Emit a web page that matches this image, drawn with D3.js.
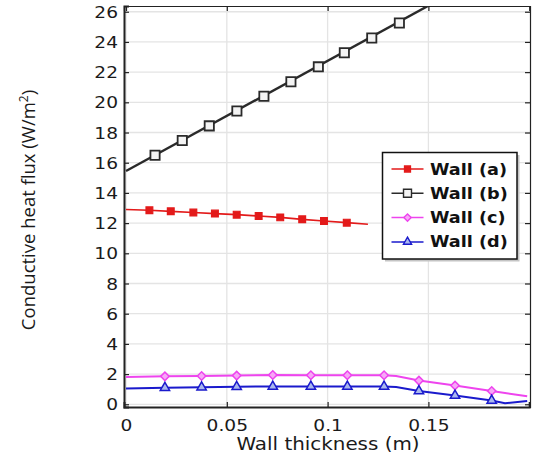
<!DOCTYPE html>
<html><head><meta charset="utf-8">
<script src="https://cdn.jsdelivr.net/npm/d3@7"></script>
<style>body{margin:0;background:#fff;} svg{display:block;}</style>
</head><body>
<svg id="chart" width="537" height="457"></svg>
<script>
// ---- data ----
const xTicks = [0, 0.05, 0.1, 0.15];
const xTickLabels = ["0", "0.05", "0.1", "0.15"];
const yTicks = [0, 2, 4, 6, 8, 10, 12, 14, 16, 18, 20, 22, 24, 26];
const seriesNames = ["Wall (a)", "Wall (b)", "Wall (c)", "Wall (d)"];

// line paths (x in m, y in W/m2)
const wallA_lineX = [0, 0.0116, 0.0222, 0.0334, 0.0441, 0.0549, 0.0658, 0.0765, 0.0874, 0.0982, 0.1095, 0.12];
const wallA_lineY = [12.9, 12.85, 12.78, 12.7, 12.63, 12.56, 12.47, 12.38, 12.25, 12.14, 12.03, 11.92];
const wallA_markX = [0.0116, 0.0222, 0.0334, 0.0441, 0.0549, 0.0658, 0.0765, 0.0874, 0.0982, 0.1095];
const wallA_markY = [12.85, 12.78, 12.7, 12.63, 12.56, 12.47, 12.38, 12.25, 12.14, 12.03];

const wallB_lineX = [0, 0.15];
const wallB_lineY = [15.45, 26.4];
const wallB_markX = [0.0144, 0.0279, 0.0413, 0.055, 0.0684, 0.0818, 0.0954, 0.1083, 0.1219, 0.1356];
const wallB_markY = [16.49, 17.47, 18.44, 19.43, 20.4, 21.36, 22.35, 23.28, 24.26, 25.25];

const wallC_lineX = [0, 0.0193, 0.0375, 0.0549, 0.0728, 0.0917, 0.1098, 0.128, 0.134, 0.1453, 0.1632, 0.1814, 0.199];
const wallC_lineY = [1.81, 1.85, 1.87, 1.9, 1.94, 1.92, 1.92, 1.92, 1.88, 1.57, 1.24, 0.88, 0.53];
const wallC_markX = [0.0193, 0.0375, 0.0549, 0.0728, 0.0917, 0.1098, 0.128, 0.1453, 0.1632, 0.1814];
const wallC_markY = [1.85, 1.87, 1.9, 1.94, 1.92, 1.92, 1.92, 1.57, 1.24, 0.88];

const wallD_lineX = [0, 0.0193, 0.0375, 0.0549, 0.0728, 0.0917, 0.1098, 0.128, 0.134, 0.1453, 0.1632, 0.1814, 0.188, 0.199];
const wallD_lineY = [1.04, 1.1, 1.13, 1.16, 1.18, 1.18, 1.18, 1.18, 1.15, 0.88, 0.58, 0.25, 0.07, 0.22];
const wallD_markX = [0.0193, 0.0375, 0.0549, 0.0728, 0.0917, 0.1098, 0.128, 0.1453, 0.1632, 0.1814];
const wallD_markY = [1.1, 1.13, 1.16, 1.18, 1.18, 1.18, 1.18, 0.88, 0.58, 0.25];

// ---- drawing ----
const svg = d3.select("#chart");
const L = 124, R = 530, T = 6, B = 407;
const x = d3.scaleLinear().domain([-0.001, 0.2]).range([L, 529.2]);
const y = d3.scaleLinear().domain([-0.18, 26.38]).range([B, T]);
const font = "'DejaVu Sans', sans-serif";
const SX = 1.2; // horizontal stretch of the reference text

svg.append("defs").append("clipPath").attr("id", "clip")
  .append("rect").attr("x", L).attr("y", T).attr("width", R - L).attr("height", B - T);

// grid
const grid = svg.append("g");
grid.selectAll("line.gy").data(yTicks).enter().append("line")
  .attr("x1", L).attr("x2", R).attr("y1", d => y(d)).attr("y2", d => y(d))
  .attr("stroke", "#e4e4e4").attr("stroke-width", 1.3);
grid.selectAll("line.gx").data(xTicks).enter().append("line")
  .attr("y1", T).attr("y2", B).attr("x1", d => x(d)).attr("x2", d => x(d))
  .attr("stroke", "#e4e4e4").attr("stroke-width", 1.3);

// axes
const axB = d3.axisBottom(x).tickValues(xTicks).tickSize(-5).tickFormat((d, i) => xTickLabels[i]);
const gB = svg.append("g").attr("transform", `translate(0,${B})`).call(axB);
const axL = d3.axisLeft(y).tickValues(yTicks).tickSize(-5);
const gL = svg.append("g").attr("transform", `translate(${L},0)`).call(axL);
const axT = d3.axisTop(x).tickValues(xTicks).tickSize(-5).tickFormat("");
const gT = svg.append("g").attr("transform", `translate(0,${T})`).call(axT);
const axR = d3.axisRight(y).tickValues(yTicks).tickSize(-5).tickFormat("");
const gR = svg.append("g").attr("transform", `translate(${R},0)`).call(axR);
[gB, gL, gT, gR].forEach(g => {
  g.select(".domain").attr("stroke", "#222").attr("stroke-width", 1.2);
  g.selectAll(".tick line").attr("stroke", "#222").attr("stroke-width", 1.2);
  g.selectAll("text").attr("font-family", font).attr("font-size", 15.5).attr("fill", "#1a1a1a");
});
gL.select(".domain").attr("stroke-width", 2);
gB.select(".domain").attr("stroke-width", 2);
gB.selectAll(".tick").filter(d => d === 0).select("line").remove();
gB.selectAll(".tick text").attr("x", 0).attr("y", 0).attr("dy", 0)
  .attr("transform", `translate(0,${431 - B}) scale(${SX},1)`);
gL.selectAll(".tick text").attr("x", 0).attr("dy", "0.36em")
  .attr("transform", `translate(-6,0) scale(${SX},1)`);

// axis titles
svg.append("text").attr("text-anchor", "middle")
  .attr("transform", "translate(328,450) scale(1.17,1)")
  .attr("font-family", font).attr("font-size", 17).attr("fill", "#1a1a1a")
  .text("Wall thickness (m)");
const yl = svg.append("text").attr("transform", "translate(35,210) rotate(-90)")
  .attr("text-anchor", "middle").attr("font-family", "'Open Sans', sans-serif")
  .attr("font-size", 18.5).attr("fill", "#1a1a1a");
yl.append("tspan").text("Conductive heat flux (W/m");
yl.append("tspan").attr("font-size", 12).attr("dy", -7).text("2");
yl.append("tspan").attr("dy", 7).text(")");

// series
const line = d3.line().x(d => x(d[0])).y(d => y(d[1]));
const plot = svg.append("g").attr("clip-path", "url(#clip)");
const series = [
  {lx: wallA_lineX, ly: wallA_lineY, mx: wallA_markX, my: wallA_markY, color: "#e31a1a", w: 1.6, sym: d3.symbolSquare, size: 46, rot: 0, fill: "#e31a1a", sw: 1.2},
  {lx: wallB_lineX, ly: wallB_lineY, mx: wallB_markX, my: wallB_markY, color: "#2a2a2a", w: 2.4, sym: d3.symbolSquare, size: 85, rot: 0, fill: "#f4f4f4", sw: 1.8},
  {lx: wallC_lineX, ly: wallC_lineY, mx: wallC_markX, my: wallC_markY, color: "#ee44ee", w: 2, sym: d3.symbolSquare, size: 36, rot: 45, fill: "#f7a8f7", sw: 1.5},
  {lx: wallD_lineX, ly: wallD_lineY, mx: wallD_markX, my: wallD_markY, color: "#1a1acc", w: 2, sym: d3.symbolTriangle, size: 38, rot: 0, fill: "#aab8ee", sw: 1.5}
];
series.forEach(s => {
  const pts = s.lx.map((v, i) => [v, s.ly[i]]);
  plot.append("path").attr("d", line(pts)).attr("fill", "none")
    .attr("stroke", s.color).attr("stroke-width", s.w);
  const mk = s.mx.map((v, i) => [v, s.my[i]]);
  plot.selectAll(null).data(mk).enter().append("path")
    .attr("transform", d => `translate(${x(d[0])},${y(d[1])}) rotate(${s.rot})`)
    .attr("d", d3.symbol().type(s.sym).size(s.size))
    .attr("fill", s.fill).attr("stroke", s.color).attr("stroke-width", s.sw);
});

// legend
const lg = svg.append("g");
lg.append("rect").attr("x", 385).attr("y", 155).attr("width", 134.5).attr("height", 106.5).attr("fill", "#c4c4c4");
lg.append("rect").attr("x", 382.5).attr("y", 152.5).attr("width", 134.5).attr("height", 106.5)
  .attr("fill", "#fff").attr("stroke", "#111").attr("stroke-width", 1.5);
const legY = [169, 193.3, 217.6, 241.9];
series.forEach((s, i) => {
  lg.append("line").attr("x1", 391.5).attr("x2", 423.5).attr("y1", legY[i]).attr("y2", legY[i])
    .attr("stroke", s.color).attr("stroke-width", 1.5);
  lg.append("path").attr("transform", `translate(407.5,${legY[i]}) rotate(${s.rot})`)
    .attr("d", d3.symbol().type(s.sym).size(s.size * 0.75))
    .attr("fill", s.fill).attr("stroke", s.color).attr("stroke-width", 1.4);
  lg.append("text").attr("transform", `translate(430,${legY[i] + 5.5}) scale(1.14,1)`)
    .attr("font-family", font).attr("font-size", 15.5).attr("font-weight", "bold").attr("fill", "#111")
    .text(seriesNames[i]);
});
</script>
</body></html>
